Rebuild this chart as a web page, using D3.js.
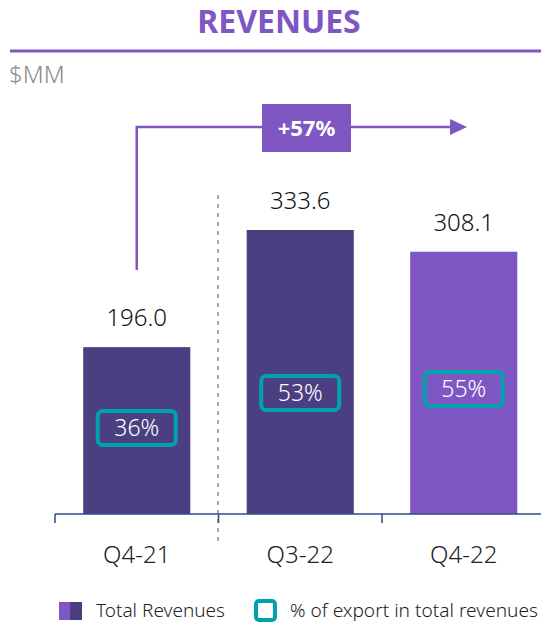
<!DOCTYPE html>
<html lang="en">
<head>
<meta charset="UTF-8">
<title>Revenues</title>
<script src="https://cdn.jsdelivr.net/npm/d3@7"></script>
<style>
  body { margin: 0; background: #fff; }
  text { font-family: "Noto Sans", Roboto, sans-serif; }
</style>
</head>
<body>
<div id="chart"></div>
<script>
// data
const categories = ["Q4-21", "Q3-22", "Q4-22"];
const revenues = [196.0, 333.6, 308.1];
const exportPct = [36, 53, 55];
const growthLabel = "+57%";

const W = 541, H = 623;
const purple = "#7E57C2", darkPurple = "#4B3F82", teal = "#00A2AD", axisCol = "#2F4A8A";

const svg = d3.select("#chart").append("svg")
    .attr("width", W).attr("height", H);

// header
svg.append("text")
    .attr("x", 279).attr("y", 33)
    .attr("text-anchor", "middle")
    .attr("font-size", "32px").attr("font-weight", "bold")
    .attr("fill", purple)
    .text("REVENUES");
svg.append("line")
    .attr("x1", 10).attr("x2", W).attr("y1", 51).attr("y2", 51)
    .attr("stroke", purple).attr("stroke-width", 3);
svg.append("text")
    .attr("x", 9).attr("y", 83)
    .attr("font-size", "24px").attr("font-weight", 300).attr("fill", "#8a8a8a")
    .text("$MM");

// scales
const x = d3.scaleBand()
    .domain(categories)
    .range([55, 545.5])
    .paddingInner(0.345)
    .paddingOuter(0.1725);
const y = d3.scaleLinear()
    .domain([0, 333.6])
    .range([514, 230]);

// separator
svg.append("line")
    .attr("x1", 218).attr("x2", 218).attr("y1", 195).attr("y2", 545)
    .attr("stroke", "#aaa").attr("stroke-width", 2)
    .attr("stroke-dasharray", "4,5");

// bars
svg.selectAll(".bar")
  .data(revenues)
  .join("rect")
    .attr("x", (d, i) => x(categories[i]))
    .attr("y", d => y(d))
    .attr("width", x.bandwidth())
    .attr("height", d => y(0) - y(d))
    .attr("fill", (d, i) => i === 2 ? purple : darkPurple);

// value labels
svg.selectAll(".val")
  .data(revenues)
  .join("text")
    .attr("x", (d, i) => x(categories[i]) + x.bandwidth() / 2)
    .attr("y", d => y(d) - 21)
    .attr("text-anchor", "middle")
    .attr("font-size", "24px").attr("font-weight", 300).attr("fill", "#111")
    .text(d => d.toFixed(1));

// export % boxes
const boxY = [428, 393, 389];
const boxes = svg.selectAll(".pct")
  .data(exportPct)
  .join("g")
    .attr("transform", (d, i) => `translate(${x(categories[i]) + x.bandwidth() / 2},${boxY[i]})`);
boxes.append("rect")
    .attr("x", -39).attr("y", -17).attr("width", 78).attr("height", 34)
    .attr("rx", 5)
    .attr("fill", "none").attr("stroke", teal).attr("stroke-width", 4);
boxes.append("text")
    .attr("text-anchor", "middle").attr("dy", "0.36em")
    .attr("font-size", "23px").attr("font-weight", 300).attr("fill", "#fff")
    .text(d => d + "%");

// x axis
const axis = svg.append("g");
axis.append("line")
    .attr("x1", 55).attr("x2", W).attr("y1", 514).attr("y2", 514)
    .attr("stroke", axisCol).attr("stroke-width", 1.5);
axis.selectAll(".tick")
  .data([55, 218.5, 382])
  .join("line")
    .attr("x1", d => d).attr("x2", d => d)
    .attr("y1", 514).attr("y2", 523)
    .attr("stroke", axisCol).attr("stroke-width", 1.5);
axis.selectAll(".cat")
  .data(categories)
  .join("text")
    .attr("x", d => x(d) + x.bandwidth() / 2)
    .attr("y", 563)
    .attr("text-anchor", "middle")
    .attr("font-size", "24px").attr("font-weight", 300).attr("fill", "#222")
    .text(d => d);

// growth arrow
const arrowX0 = x(categories[0]) + x.bandwidth() / 2;
svg.append("path")
    .attr("d", `M${arrowX0},270 V127 H452`)
    .attr("fill", "none").attr("stroke", purple).attr("stroke-width", 2.5);
svg.append("path")
    .attr("d", "M450,119 L467,127 L450,135 Z")
    .attr("fill", purple);
svg.append("rect")
    .attr("x", 262).attr("y", 104).attr("width", 89).attr("height", 48)
    .attr("fill", purple);
svg.append("text")
    .attr("x", 306.5).attr("y", 128).attr("dy", "0.36em")
    .attr("text-anchor", "middle")
    .attr("font-size", "22px").attr("font-weight", "bold").attr("fill", "#fff")
    .text(growthLabel);

// legend
const lg = svg.append("g");
lg.append("rect").attr("x", 59).attr("y", 602).attr("width", 12).attr("height", 18).attr("fill", purple);
lg.append("rect").attr("x", 70).attr("y", 602).attr("width", 12).attr("height", 18).attr("fill", darkPurple);
lg.append("text").attr("x", 96).attr("y", 617)
    .attr("font-size", "19px").attr("font-weight", 300).attr("fill", "#222").text("Total Revenues");
lg.append("rect").attr("x", 256).attr("y", 601).attr("width", 19).attr("height", 19)
    .attr("rx", 3).attr("fill", "none").attr("stroke", teal).attr("stroke-width", 4);
lg.append("text").attr("x", 290).attr("y", 617)
    .attr("font-size", "19px").attr("font-weight", 300).attr("fill", "#222")
    .attr("textLength", 248).attr("lengthAdjust", "spacingAndGlyphs")
    .text("% of export in total revenues");
</script>
</body>
</html>
